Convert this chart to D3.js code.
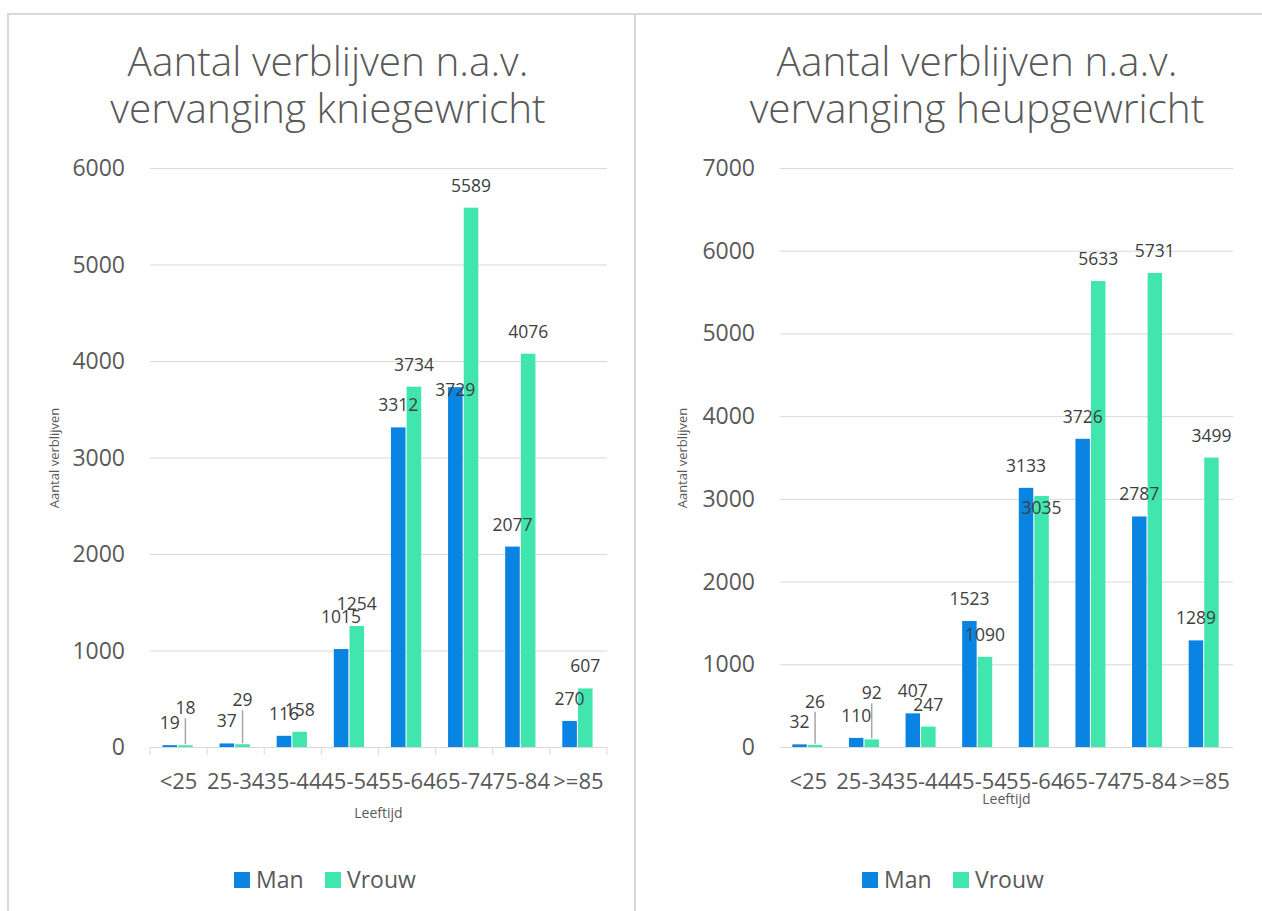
<!DOCTYPE html>
<html>
<head>
<meta charset="utf-8">
<script src="https://cdn.jsdelivr.net/npm/d3@7"></script>
<style>
  body { margin: 0; background: #fff; }
  svg { display: block; font-family: "Open Sans", sans-serif; }
</style>
</head>
<body>
<svg id="chart" width="1262" height="911"></svg>
<script>
// data
const categories = ["<25", "25-34", "35-44", "45-54", "55-64", "65-74", "75-84", ">=85"];
const series = ["Man", "Vrouw"];
const kneeMan = [19, 37, 116, 1015, 3312, 3729, 2077, 270];
const kneeVrouw = [18, 29, 158, 1254, 3734, 5589, 4076, 607];
const hipMan = [32, 110, 407, 1523, 3133, 3726, 2787, 1289];
const hipVrouw = [26, 92, 247, 1090, 3035, 5633, 5731, 3499];
const kneeTicks = [0, 1000, 2000, 3000, 4000, 5000, 6000];
const hipTicks = [0, 1000, 2000, 3000, 4000, 5000, 6000, 7000];

const colors = {Man: "#0984e3", Vrouw: "#40e6ae"};
const textColor = "#595959";

const svg = d3.select("#chart");

// panel borders
svg.append("path")
    .attr("d", "M8,911 V14 H1262 M635,14 V911")
    .attr("fill", "none")
    .attr("stroke", "#d9d9d9")
    .attr("stroke-width", 2);

function drawChart(cfg) {
    let g = svg.append("g");

    // title
    let title = g.append("text")
        .attr("text-anchor", "middle")
        .attr("fill", textColor)
        .style("font-size", "40.5px")
        .style("font-weight", 300);
    cfg.title.forEach((t, i) => {
        title.append("tspan")
            .attr("x", cfg.titleX)
            .attr("y", 76 + i * 47)
            .text(t);
    });

    let x = d3.scaleBand()
        .domain(categories)
        .range([cfg.left, cfg.right]);
    let groupW = x.bandwidth() * 0.53;
    let xs = d3.scaleBand()
        .domain(series)
        .range([0, groupW])
        .paddingInner(0.07);
    let y = d3.scaleLinear()
        .domain([0, d3.max(cfg.ticks)])
        .range([747, 168]);

    // gridlines
    g.append("g").selectAll("line").data(cfg.ticks).join("line")
        .attr("x1", cfg.left).attr("x2", cfg.right)
        .attr("y1", d => y(d) + 0.5).attr("y2", d => y(d) + 0.5)
        .attr("stroke", "#d9d9d9");

    // y axis labels
    g.append("g").selectAll("text").data(cfg.ticks).join("text")
        .attr("x", cfg.left - 25)
        .attr("y", d => y(d) + 8)
        .attr("text-anchor", "end")
        .attr("fill", textColor)
        .style("font-size", "23px")
        .text(d => d);

    // x axis
    let xAxis = g.append("g").attr("transform", "translate(0,747)");
    xAxis.append("line")
        .attr("x1", cfg.left).attr("x2", cfg.right)
        .attr("y1", 0.5).attr("y2", 0.5)
        .attr("stroke", "#d9d9d9");
    if (cfg.tickMarks) {
        let bounds = categories.map(c => x(c)).concat([cfg.right]);
        xAxis.selectAll(".tk").data(bounds).join("line")
            .attr("class", "tk")
            .attr("x1", d => d).attr("x2", d => d)
            .attr("y1", 0).attr("y2", 8)
            .attr("stroke", "#d9d9d9");
    }
    xAxis.selectAll(".cat").data(categories).join("text")
        .attr("class", "cat")
        .attr("x", d => x(d) + x.bandwidth() / 2)
        .attr("y", 42)
        .attr("text-anchor", "middle")
        .attr("fill", textColor)
        .style("font-size", "22px")
        .text(d => d);

    // axis titles
    g.append("text")
        .attr("x", (cfg.left + cfg.right) / 2)
        .attr("y", cfg.xTitleY)
        .attr("text-anchor", "middle")
        .attr("fill", textColor)
        .style("font-size", "14px")
        .text("Leeftijd");
    g.append("text")
        .attr("transform", `translate(${cfg.yTitleX},458) rotate(-90)`)
        .attr("text-anchor", "middle")
        .attr("fill", textColor)
        .style("font-size", "13px")
        .text("Aantal verblijven");

    // bars
    let rows = [];
    categories.forEach((c, i) => {
        series.forEach(s => {
            rows.push({cat: c, s: s, v: cfg.values[s][i]});
        });
    });
    let barX = d => x(d.cat) + (x.bandwidth() - groupW) / 2 - 1 + xs(d.s);
    g.append("g").selectAll("rect").data(rows).join("rect")
        .attr("x", barX)
        .attr("y", d => y(d.v))
        .attr("width", xs.bandwidth())
        .attr("height", d => 747 - y(d.v))
        .attr("fill", d => colors[d.s]);

    // data labels (nudges copy the hand-moved labels of the original)
    let labelY = d => y(d.v) - 22 + ((cfg.nudge[d.s + "|" + d.cat] || {}).dy || 0);
    let leaders = rows.filter(d => (cfg.nudge[d.s + "|" + d.cat] || {}).leader);
    g.append("g").selectAll("line").data(leaders).join("line")
        .attr("x1", d => barX(d) + xs.bandwidth() / 2)
        .attr("x2", d => barX(d) + xs.bandwidth() / 2)
        .attr("y1", d => y(d.v) - 1)
        .attr("y2", d => labelY(d) + 10)
        .attr("stroke", "#a6a6a6")
        .attr("stroke-width", 1.5);
    g.append("g").selectAll("text").data(rows).join("text")
        .attr("x", d => barX(d) + xs.bandwidth() / 2)
        .attr("y", d => labelY(d) + 6)
        .attr("text-anchor", "middle")
        .attr("fill", "#404040")
        .style("font-size", "17.5px")
        .text(d => d.v);

    // legend
    let leg = g.append("g").attr("transform", `translate(${cfg.legendX},880)`);
    let items = [{s: "Man", dx: 0}, {s: "Vrouw", dx: 91}];
    items.forEach(it => {
        leg.append("rect")
            .attr("x", it.dx).attr("y", -8)
            .attr("width", 16).attr("height", 16)
            .attr("fill", colors[it.s]);
        leg.append("text")
            .attr("x", it.dx + 22).attr("y", 8)
            .attr("fill", textColor)
            .style("font-size", "23px")
            .text(it.s);
    });
}

drawChart({
    title: ["Aantal verblijven n.a.v.", "vervanging kniegewricht"],
    titleX: 328,
    left: 150, right: 607,
    ticks: kneeTicks,
    values: {Man: kneeMan, Vrouw: kneeVrouw},
    tickMarks: true,
    xTitleY: 818,
    yTitleX: 59,
    legendX: 234,
    nudge: {
        "Vrouw|<25": {dy: -15, leader: true},
        "Vrouw|25-34": {dy: -22, leader: true},
        "Man|45-54": {dy: -10},
        "Man|65-74": {dy: 25}
    }
});

drawChart({
    title: ["Aantal verblijven n.a.v.", "vervanging heupgewricht"],
    titleX: 977,
    left: 780, right: 1233,
    ticks: hipTicks,
    values: {Man: hipMan, Vrouw: hipVrouw},
    tickMarks: false,
    xTitleY: 804,
    yTitleX: 687,
    legendX: 862,
    nudge: {
        "Vrouw|<25": {dy: -21, leader: true},
        "Vrouw|25-34": {dy: -24, leader: true},
        "Vrouw|55-64": {dy: 34}
    }
});
</script>
</body>
</html>
